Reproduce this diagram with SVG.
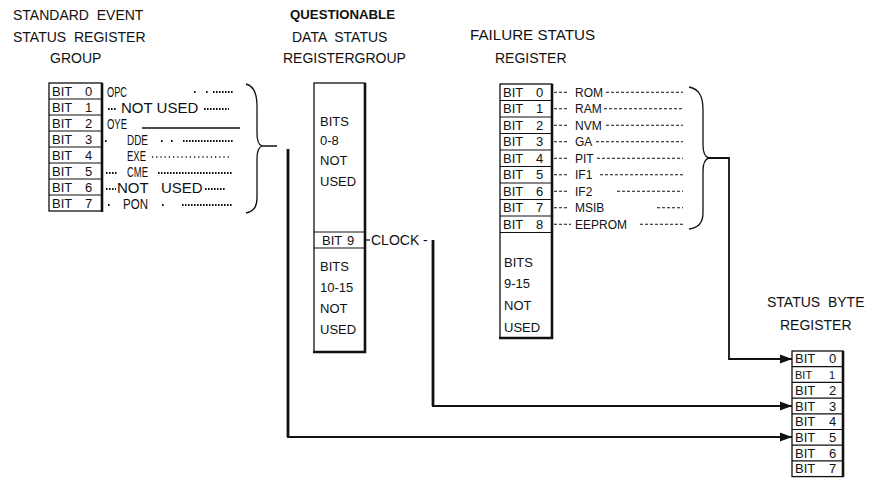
<svg xmlns="http://www.w3.org/2000/svg" width="872" height="487" viewBox="0 0 872 487">
<style>
text{font-family:"Liberation Sans",Arial,sans-serif;fill:#111}
.t{font-size:14px}
.b{font-size:13px}
.lb{font-size:15px}
.fl{font-size:12px}
.box{fill:#fff;stroke:#111;stroke-width:1.3}
.thk{stroke:#111;stroke-width:2.6;fill:none}
.sep{stroke:#111;stroke-width:1.2}
.dd{stroke:#111;stroke-width:1.8;stroke-dasharray:1.6 1.4;fill:none}
.sd{stroke:#111;stroke-width:1.4;stroke-dasharray:1.2 3;fill:none}
.ds{stroke:#111;stroke-width:1.1;stroke-dasharray:3 2;fill:none}
.br{stroke:#111;stroke-width:1.3;fill:none}
.cn{stroke:#111;stroke-width:1.8;fill:none}
.cv{stroke:#111;stroke-width:2.8;fill:none}
</style>
<defs>
<marker id="ah" markerUnits="userSpaceOnUse" markerWidth="13" markerHeight="10" refX="12" refY="5" orient="auto">
<path d="M0,0.5 L12,5 L0,9.5 z" fill="#111"/>
</marker>
</defs>

<g id="std-event">
<text class="t" x="13" y="20" xml:space="preserve">STANDARD  EVENT</text>
<text class="t" x="13" y="42" xml:space="preserve">STATUS  REGISTER</text>
<text class="t" x="50" y="63">GROUP</text>
<rect class="box" x="49" y="83" width="53" height="128"/>
<line class="thk" x1="102" y1="83" x2="102" y2="212"/>
<g class="sep">
<line x1="49" y1="99" x2="102" y2="99"/><line x1="49" y1="115" x2="102" y2="115"/>
<line x1="49" y1="131" x2="102" y2="131"/><line x1="49" y1="147" x2="102" y2="147"/>
<line x1="49" y1="163" x2="102" y2="163"/><line x1="49" y1="179" x2="102" y2="179"/>
<line x1="49" y1="195" x2="102" y2="195"/>
</g>
<text class="b" x="52" y="95.5">BIT <tspan x="85">0</tspan></text>
<text class="b" x="52" y="111.5">BIT <tspan x="85">1</tspan></text>
<text class="b" x="52" y="127.5">BIT <tspan x="85">2</tspan></text>
<text class="b" x="52" y="143.5">BIT <tspan x="85">3</tspan></text>
<text class="b" x="52" y="159.5">BIT <tspan x="85">4</tspan></text>
<text class="b" x="52" y="175.5">BIT <tspan x="85">5</tspan></text>
<text class="b" x="52" y="191.5">BIT <tspan x="85">6</tspan></text>
<text class="b" x="52" y="207.5">BIT <tspan x="85">7</tspan></text>
<text class="lb" x="107" y="97" textLength="20" lengthAdjust="spacingAndGlyphs">OPC</text>
<text class="lb" x="121" y="112.5">NOT USED</text>
<text class="lb" x="107" y="129" textLength="20" lengthAdjust="spacingAndGlyphs">OYE</text>
<line class="br" x1="142" y1="128" x2="240" y2="128"/>
<text class="lb" x="127" y="145" textLength="21" lengthAdjust="spacingAndGlyphs">DDE</text>
<text class="lb" x="127" y="160.5" textLength="19" lengthAdjust="spacingAndGlyphs">EXE</text>
<text class="lb" x="127" y="176.5" textLength="21" lengthAdjust="spacingAndGlyphs">CME</text>
<text class="lb" x="117" y="192.5" xml:space="preserve">NOT   USED</text>
<text class="lb" x="123" y="209" textLength="25" lengthAdjust="spacingAndGlyphs">PON</text>
<path class="dd" d="M194,92h2M206,92h2M213,92H233M108,109H117M204,109H229M105,141h2M161,141h2M171,141h2M183,141H233M106,173H117M158,173H233M106,189H116M205,189H225M108,205h2M162,205h2M182,205H233"/>
<path class="sd" d="M152,157H230"/>
<path class="br" d="M246,84 C254,86 257,93 257,106 L257,133 C257,140 259,145 262,146 C259,147 257,152 257,159 L257,198 C257,207 253,212 246,213 M262,146 H277"/>
</g>

<g id="questionable">
<text class="t" x="290" y="19" textLength="105" lengthAdjust="spacingAndGlyphs" style="font-weight:bold;font-size:13px">QUESTIONABLE</text>
<text class="t" x="292" y="42" xml:space="preserve">DATA  STATUS</text>
<text class="t" x="283" y="63">REGISTERGROUP</text>
<rect class="box" x="314" y="83" width="51" height="269"/>
<path class="thk" d="M365,83 V352 H313"/>
<line class="sep" x1="314" y1="232" x2="365" y2="232"/>
<line class="sep" x1="314" y1="248" x2="365" y2="248"/>
<text class="b" x="320" y="126">BITS</text>
<text class="b" x="320" y="145">0-8</text>
<text class="b" x="320" y="165">NOT</text>
<text class="b" x="320" y="186">USED</text>
<text class="b" x="322" y="244.5">BIT <tspan x="347">9</tspan></text>
<text class="b" x="320" y="271">BITS</text>
<text class="b" x="320" y="292">10-15</text>
<text class="b" x="320" y="313">NOT</text>
<text class="b" x="320" y="334">USED</text>
<line class="br" x1="365" y1="240" x2="370" y2="240"/>
<text class="t" x="371" y="245">CLOCK -</text>
</g>

<g id="failure">
<text class="t" x="470" y="40" textLength="125" lengthAdjust="spacingAndGlyphs">FAILURE STATUS</text>
<text class="t" x="495" y="63">REGISTER</text>
<rect class="box" x="500" y="84" width="52" height="254"/>
<path class="thk" d="M552,84 V338 H499"/>
<g class="sep">
<line x1="500" y1="100.5" x2="552" y2="100.5"/><line x1="500" y1="117" x2="552" y2="117"/>
<line x1="500" y1="133.5" x2="552" y2="133.5"/><line x1="500" y1="150" x2="552" y2="150"/>
<line x1="500" y1="166.5" x2="552" y2="166.5"/><line x1="500" y1="183" x2="552" y2="183"/>
<line x1="500" y1="199.5" x2="552" y2="199.5"/><line x1="500" y1="216" x2="552" y2="216"/>
<line x1="500" y1="232.5" x2="552" y2="232.5"/>
</g>
<text class="b" x="503" y="96.8">BIT <tspan x="536">0</tspan></text>
<text class="b" x="503" y="113.3">BIT <tspan x="536">1</tspan></text>
<text class="b" x="503" y="129.8">BIT <tspan x="536">2</tspan></text>
<text class="b" x="503" y="146.3">BIT <tspan x="536">3</tspan></text>
<text class="b" x="503" y="162.8">BIT <tspan x="536">4</tspan></text>
<text class="b" x="503" y="179.3">BIT <tspan x="536">5</tspan></text>
<text class="b" x="503" y="195.8">BIT <tspan x="536">6</tspan></text>
<text class="b" x="503" y="212.3">BIT <tspan x="536">7</tspan></text>
<text class="b" x="503" y="228.8">BIT <tspan x="536">8</tspan></text>
<text class="fl" x="575" y="96.7">ROM</text>
<text class="fl" x="575" y="113.2">RAM</text>
<text class="fl" x="575" y="129.7">NVM</text>
<text class="fl" x="575" y="146.2">GA</text>
<text class="fl" x="575" y="162.7">PIT</text>
<text class="fl" x="575" y="179.2">IF1</text>
<text class="fl" x="575" y="195.7">IF2</text>
<text class="fl" x="575" y="212.2">MSIB</text>
<text class="fl" x="575" y="228.7">EEPROM</text>
<path class="ds" d="M554,92.3H569M606,92.3H683M554,108.8H569M604,108.8H683M554,125.3H569M606,125.3H683M554,141.8H569M596,141.8H683M554,158.3H569M597,158.3H683M554,174.8H569M600,174.8H683M554,191.3H569M617,191.3H683M554,207.8H569M657,207.8H683M554,224.3H571M640,224.3H683"/>
<text class="b" x="504" y="266.5">BITS</text>
<text class="b" x="504" y="287.5">9-15</text>
<text class="b" x="504" y="309.5">NOT</text>
<text class="b" x="504" y="331.5">USED</text>
<path class="br" d="M689,87 C699,89 703,96 703,110 L703,145 C703,152 705,157 709,158 C705,159 703,164 703,171 L703,213 C703,223 698,228 689,229"/>
</g>

<g id="status-byte">
<text class="t" x="767" y="307" xml:space="preserve">STATUS  BYTE</text>
<text class="t" x="780" y="330">REGISTER</text>
<rect class="box" x="792" y="351" width="51" height="125.6"/>
<line class="thk" x1="843" y1="351" x2="843" y2="477"/>
<g class="sep">
<line x1="792" y1="366.7" x2="843" y2="366.7"/><line x1="792" y1="382.4" x2="843" y2="382.4"/>
<line x1="792" y1="398.1" x2="843" y2="398.1"/><line x1="792" y1="413.8" x2="843" y2="413.8"/>
<line x1="792" y1="429.5" x2="843" y2="429.5"/><line x1="792" y1="445.2" x2="843" y2="445.2"/>
<line x1="792" y1="460.9" x2="843" y2="460.9"/>
</g>
<text class="b" x="795" y="363.4">BIT <tspan x="829">0</tspan></text>
<text class="b" x="795" y="378.5" style="font-size:11px">BIT <tspan x="829">1</tspan></text>
<text class="b" x="795" y="394.8">BIT <tspan x="829">2</tspan></text>
<text class="b" x="795" y="410.5">BIT <tspan x="829">3</tspan></text>
<text class="b" x="795" y="426.2">BIT <tspan x="829">4</tspan></text>
<text class="b" x="795" y="441.9">BIT <tspan x="829">5</tspan></text>
<text class="b" x="795" y="457.6">BIT <tspan x="829">6</tspan></text>
<text class="b" x="795" y="473.3">BIT <tspan x="829">7</tspan></text>
</g>

<g id="connectors">
<path class="cn" d="M709,158 H729 V359 H792" marker-end="url(#ah)"/>
<path class="cn" d="M433,240 V406 H792" marker-end="url(#ah)"/>
<line class="cv" x1="433" y1="240" x2="433" y2="406"/>
<path class="cn" d="M288,149 V437 H792" marker-end="url(#ah)"/>
<line class="cv" x1="288" y1="149" x2="288" y2="437"/>
</g>
</svg>
